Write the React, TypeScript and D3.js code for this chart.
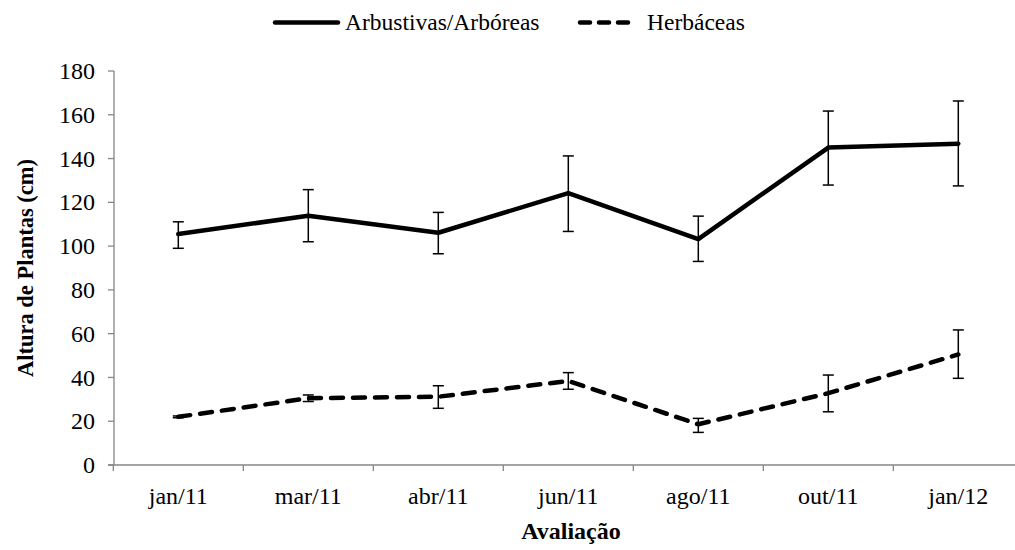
import React from "react";
import * as d3 from "d3";

const categories = ["jan/11", "mar/11", "abr/11", "jun/11", "ago/11", "out/11", "jan/12"];
const arbMean = [105.5, 113.9, 106.1, 124.2, 103.2, 145.0, 146.8];
const arbLow = [99.0, 102.0, 96.5, 106.7, 93.0, 127.9, 127.5];
const arbHigh = [111.1, 125.8, 115.4, 141.2, 113.7, 161.7, 166.3];
const herbMean = [22.0, 30.5, 31.2, 38.4, 18.6, 32.8, 50.5];
const herbLow = [21.6, 29.0, 25.9, 34.6, 14.9, 24.3, 39.6];
const herbHigh = [22.4, 32.0, 36.2, 42.2, 21.3, 41.1, 61.7];
const yTicks = [0, 20, 40, 60, 80, 100, 120, 140, 160, 180];

const W = 1015;
const H = 550;
const tStyle = { fontFamily: "Liberation Serif" };

export default function App() {
  const x = d3.scaleBand<string>().domain(categories).range([113.3, 1023.3]);
  const y = d3.scaleLinear().domain([0, 180]).range([465, 71]);
  const cx = (c: string) => (x(c) as number) + x.bandwidth() / 2;

  const line = d3
    .line<number>()
    .x((_, i) => cx(categories[i]))
    .y((d) => y(d));

  const errBars = (lo: number[], hi: number[], key: string) =>
    categories.map((c, i) => {
      const px = cx(c);
      return (
        <g key={key + i} stroke="#000" strokeWidth={1.5}>
          <line x1={px} x2={px} y1={y(lo[i])} y2={y(hi[i])} />
          <line x1={px - 5.5} x2={px + 5.5} y1={y(lo[i])} y2={y(lo[i])} />
          <line x1={px - 5.5} x2={px + 5.5} y1={y(hi[i])} y2={y(hi[i])} />
        </g>
      );
    });

  const axisColor = "#868686";
  const xTickPos = [...categories.map((c) => x(c) as number), 1023.3];

  return (
    <svg
      width={W}
      height={H}
      style={{ position: "absolute", left: 0, top: 0, background: "#fff" }}
    >
      {/* legend */}
      <line x1={275} x2={338} y1={22.5} y2={22.5} stroke="#000" strokeWidth={4.5} strokeLinecap="round" />
      <text x={345} y={30} fontSize={23.5} fill="#000" style={tStyle}>Arbustivas/Arbóreas</text>
      <line x1={580} x2={628} y1={22.5} y2={22.5} stroke="#000" strokeWidth={4.5} strokeLinecap="round" strokeDasharray="10,9" />
      <text x={647} y={30} fontSize={23.5} fill="#000" style={tStyle}>Herbáceas</text>

      {/* y axis */}
      <line x1={114} x2={114} y1={y(180)} y2={y(0)} stroke={axisColor} strokeWidth={1.3} />
      {yTicks.map((t) => (
        <g key={"yt" + t}>
          <line x1={108} x2={114} y1={y(t)} y2={y(t)} stroke={axisColor} strokeWidth={1.3} />
          <text x={95} y={y(t)} dy="0.34em" textAnchor="end" fontSize={24} fill="#000" style={tStyle}>
            {t}
          </text>
        </g>
      ))}

      {/* x axis */}
      <line x1={108} x2={1023} y1={y(0)} y2={y(0)} stroke={axisColor} strokeWidth={1.3} />
      {xTickPos.map((p, i) => (
        <line key={"xt" + i} x1={p} x2={p} y1={y(0)} y2={y(0) + 6} stroke={axisColor} strokeWidth={1.3} />
      ))}
      {categories.map((c) => (
        <text key={"xl" + c} x={cx(c)} y={504} textAnchor="middle" fontSize={24} fill="#000" style={tStyle}>
          {c}
        </text>
      ))}

      {/* titles */}
      <text x={571} y={539} textAnchor="middle" fontSize={24} fontWeight="bold" fill="#000" style={tStyle}>
        Avaliação
      </text>
      <text
        transform={`translate(33,268) rotate(-90)`}
        textAnchor="middle"
        fontSize={22.5}
        fontWeight="bold"
        fill="#000"
        style={tStyle}
      >
        Altura de Plantas (cm)
      </text>

      {/* series */}
      <path d={line(arbMean) as string} fill="none" stroke="#000" strokeWidth={4.5} strokeLinejoin="round" strokeLinecap="round" />
      <path
        d={line(herbMean) as string}
        fill="none"
        stroke="#000"
        strokeWidth={4.5}
        strokeLinejoin="round"
        strokeLinecap="round"
        strokeDasharray="12,10"
      />
      {errBars(arbLow, arbHigh, "a")}
      {errBars(herbLow, herbHigh, "h")}
    </svg>
  );
}
